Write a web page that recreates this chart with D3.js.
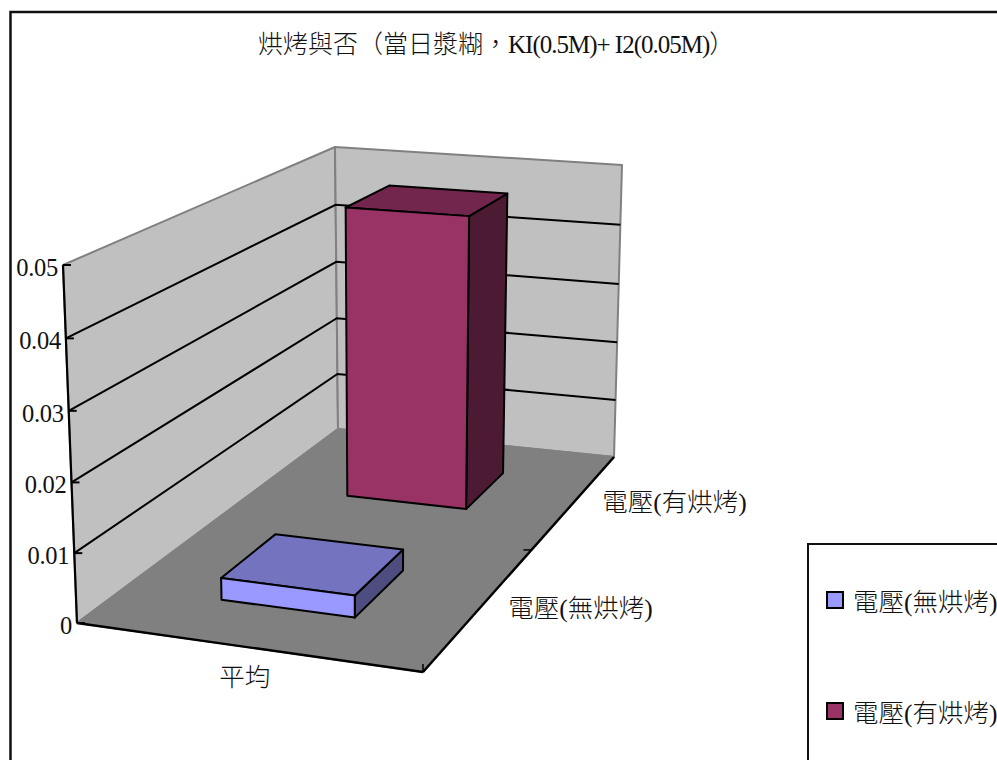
<!DOCTYPE html>
<html><head><meta charset="utf-8"><script src="https://cdn.jsdelivr.net/npm/d3@7"></script>
<style>html,body{margin:0;background:#fff;overflow:hidden}svg{display:block}
text{font-family:"Liberation Serif","Noto Sans CJK TC",serif;font-size:25.5px;font-weight:300;fill:#111}</style></head><body><svg width="997" height="760"></svg>
<script>
const titleParts = ["烘烤與否（當日漿糊，", "KI(0.5M)+ I2(0.05M)", "）"];
const categories = ["平均"];
const seriesNames = ["電壓(無烘烤)", "電壓(有烘烤)"];
const seriesValues = [[0.0032], [0.0469]];
const seriesColors = ["#9999FF", "#993366"];
const tickValues = [0, 0.01, 0.02, 0.03, 0.04, 0.05];

// Projection frame: the chart's 3D box as seen on the page
const floorQuad = [[77,623],[423,672],[614,457],[338,429]];
const topQuad   = [[63,265],[425,293],[622,165],[335,147]];
const heightPerspective = 0.97;
function hom(q){const [x0,y0]=q[0],[x1,y1]=q[1],[x2,y2]=q[2],[x3,y3]=q[3];
  const dx1=x1-x2,dx2=x3-x2,sx=x0-x1+x2-x3,dy1=y1-y2,dy2=y3-y2,sy=y0-y1+y2-y3,den=dx1*dy2-dx2*dy1;
  const g=(sx*dy2-dx2*sy)/den,h=(dx1*sy-sx*dy1)/den;
  return [x1-x0+g*x1,x3-x0+h*x3,x0,y1-y0+g*y1,y3-y0+h*y3,y0,g,h];}
const ap=(m,u,v)=>{const w=m[6]*u+m[7]*v+1;return [(m[0]*u+m[1]*v+m[2])/w,(m[3]*u+m[4]*v+m[5])/w];};
const HF=hom(floorQuad),HT=hom(topQuad);

const uScale=d3.scaleBand().domain(categories).range([0,1]).paddingInner(0.6).paddingOuter(0.3);
const vScale=d3.scaleBand().domain(seriesNames).range([0,1]).paddingInner(0.6).paddingOuter(0.3);
const yScale=d3.scaleLinear().domain([0,0.05]).range([0,1]);
function P(u,v,val){const a=ap(HF,u,v),b=ap(HT,u,v),s=yScale(val),w=heightPerspective,t=w*s/(1-s+w*s);return [a[0]+(b[0]-a[0])*t,a[1]+(b[1]-a[1])*t];}

const svg=d3.select("svg");
const line=d3.line();
const poly=(pts,fill,stroke,sw)=>svg.append("path").attr("d",line(pts)+"Z").attr("fill",fill).attr("stroke",stroke).attr("stroke-width",sw).attr("stroke-linejoin","round");
const seg=(a,b,stroke,sw)=>svg.append("path").attr("d",line([a,b])).attr("fill","none").attr("stroke",stroke).attr("stroke-width",sw);

// chart frame (runs off the page at right and bottom)
svg.append("rect").attr("x",10.5).attr("y",12).attr("width",1100).attr("height",900).attr("fill","#fff").attr("stroke","#111").attr("stroke-width",2.5);

const title=svg.append("text").attr("x",258).attr("y",53).style("font-size","25px");
title.append("tspan").text(titleParts[0]);
title.append("tspan").style("letter-spacing","-1px").text(titleParts[1]);
title.append("tspan").text(titleParts[2]);

// walls and floor
const yMax=yScale.domain()[1];
poly([P(0,0,0),P(0,1,0),P(0,1,yMax),P(0,0,yMax)],"#C0C0C0","#808080",2);
poly([P(0,1,0),P(1,1,0),P(1,1,yMax),P(0,1,yMax)],"#C0C0C0","#808080",2);
poly([P(0,0,0),P(1,0,0),P(1,1,0),P(0,1,0)],"#808080","#808080",2);

// gridlines
tickValues.filter(t=>t>0&&t<yMax).forEach(t=>{
  svg.append("path").attr("d",line([P(0,0,t),P(0,1,t),P(1,1,t)])).attr("fill","none").attr("stroke","#000").attr("stroke-width",2);
});

// value axis and ticks
seg(P(0,0,0),P(0,0,yMax),"#000",2.2);
tickValues.forEach(t=>{
  const p=P(0,0,t);
  seg(p,[p[0]+8,p[1]],"#000",2);
  svg.append("text").attr("x",p[0]-5).attr("y",p[1]+2.5).attr("text-anchor","end").attr("dominant-baseline","central").style("font-size","24.5px").style("letter-spacing","-0.3px").text(d3.format("~g")(t));
});

// floor front and right edges with ticks
seg(P(0,0,0),P(1,0,0),"#000",2.4);
seg(P(1,0,0),P(1,1,0),"#000",2.4);
[P(1,0,0)].forEach(p=>seg(p,[p[0],p[1]-8],"#000",1.5));
{const p=P(1,0.5,0);seg(p,[p[0]-8,p[1]],"#000",1.5);}

// category and series labels
categories.forEach(c=>{const p=P(uScale(c)+uScale.bandwidth()/2,0,0);
  svg.append("text").attr("x",p[0]).attr("y",p[1]+31).attr("text-anchor","middle").attr("dominant-baseline","central").text(c);});
seriesNames.forEach(s=>{const p=P(1,vScale(s)+vScale.bandwidth()/2,0);
  svg.append("text").attr("x",p[0]+27).attr("y",p[1]+2).attr("dominant-baseline","central").text(s);});

// bars, back to front
const shade=(c,k)=>{const r=d3.rgb(c);return d3.rgb(r.r*k,r.g*k,r.b*k).formatHex();};
d3.range(seriesNames.length).reverse().forEach(i=>{
  categories.forEach((c,j)=>{
    const u0=uScale(c),u1=u0+uScale.bandwidth(),v0=vScale(seriesNames[i]),v1=v0+vScale.bandwidth(),val=seriesValues[i][j];
    poly([P(u1,v0,0),P(u1,v1,0),P(u1,v1,val),P(u1,v0,val)],shade(seriesColors[i],0.5),"#000",2);
    poly([P(u0,v0,val),P(u1,v0,val),P(u1,v1,val),P(u0,v1,val)],shade(seriesColors[i],0.75),"#000",2);
    poly([P(u0,v0,0),P(u1,v0,0),P(u1,v0,val),P(u0,v0,val)],seriesColors[i],"#000",2);
  });
});

// legend (runs off the page at right and bottom)
const legendY=d3.scalePoint().domain(seriesNames).range([600,711]);
svg.append("rect").attr("x",808).attr("y",544).attr("width",300).attr("height",300).attr("fill","#fff").attr("stroke","#111").attr("stroke-width",2);
seriesNames.forEach((s,i)=>{
  const y=legendY(s);
  svg.append("rect").attr("x",827).attr("y",y-8).attr("width",16).attr("height",16).attr("fill",seriesColors[i]).attr("stroke","#000").attr("stroke-width",2);
  svg.append("text").attr("x",853).attr("y",y+2.5).attr("dominant-baseline","central").text(s);
});
</script></body></html>
